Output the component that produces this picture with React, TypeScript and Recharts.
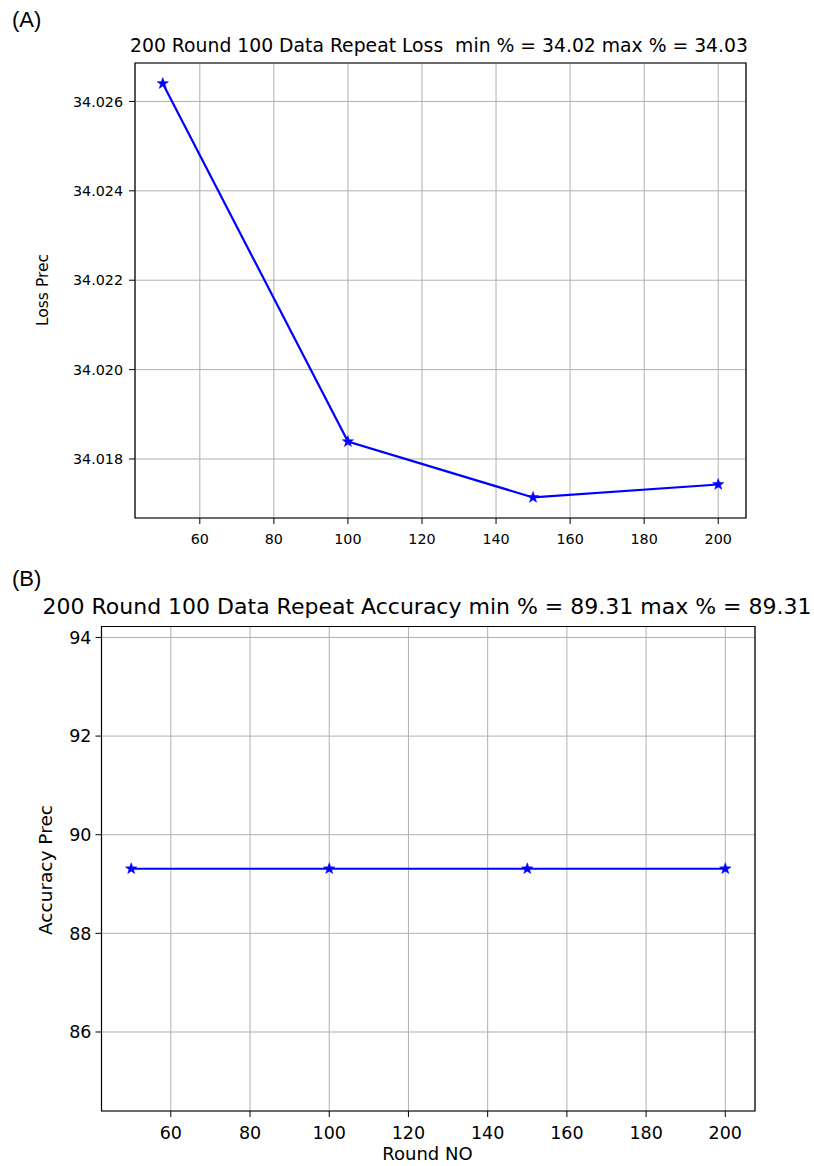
import React from 'react';
import { LineChart, Line, XAxis, YAxis, CartesianGrid, ReferenceArea } from 'recharts';

const rounds = [50, 100, 150, 200];
const lossValues = [34.0264, 34.01839, 34.01714, 34.01743];
const accuracyValues = [89.31, 89.31, 89.31, 89.31];
const xTicks = [60, 80, 100, 120, 140, 160, 180, 200];
const lossTicks = [34.018, 34.02, 34.022, 34.024, 34.026];
const accTicks = [86, 88, 90, 92, 94];

const lossData = rounds.map((r, i) => ({ round: r, loss: lossValues[i] }));
const accData = rounds.map((r, i) => ({ round: r, acc: accuracyValues[i] }));

const FONT = '"DejaVu Sans", sans-serif';
const BLUE = '#0000ff';

function starPoints(cx: number, cy: number, R: number) {
  const r = R * 0.4;
  const pts: string[] = [];
  for (let i = 0; i < 10; i++) {
    const rad = i % 2 === 0 ? R : r;
    const a = -Math.PI / 2 + (i * Math.PI) / 5;
    pts.push(`${cx + rad * Math.cos(a)},${cy + rad * Math.sin(a)}`);
  }
  return pts.join(' ');
}

const StarDot = (props: any) => {
  const { cx, cy, index } = props;
  if (cx == null || cy == null) return <g key={`s${index}`} />;
  return <polygon key={`s${index}`} points={starPoints(cx, cy, 6)} fill={BLUE} stroke={BLUE} strokeWidth={0.5} />;
};

const abs = (style: React.CSSProperties): React.CSSProperties => ({ position: 'absolute', fontFamily: FONT, color: '#000', whiteSpace: 'pre', lineHeight: 1, ...style });

export default function App() {
  const lossDomain: [number, number] = [34.01668, 34.02686];
  const accDomain: [number, number] = [84.398, 94.222];
  const xDomain: [number, number] = [42.5, 207.5];
  return (
    <div style={{ position: 'absolute', left: 0, top: 0, width: 814, height: 1166, background: '#fff', overflow: 'hidden' }}>
      <div style={abs({ left: 12, top: 9, fontSize: 22, fontFamily: '"Liberation Sans", Arial, sans-serif' })}>(A)</div>
      <div style={abs({ left: 12, top: 568, fontSize: 22, fontFamily: '"Liberation Sans", Arial, sans-serif' })}>(B)</div>

      <div style={{ position: 'absolute', left: 0, top: 0 }}>
        <LineChart width={814} height={580} data={lossData} margin={{ top: 63, right: 68, left: 55, bottom: 32 }}>
          <CartesianGrid stroke="#b0b0b0" strokeWidth={1} />
          <XAxis dataKey="round" type="number" domain={xDomain} ticks={xTicks} allowDataOverflow
            axisLine={false} tickSize={6} tickMargin={10} height={30}
            tickLine={{ stroke: '#000' }} tick={{ fill: '#000', fontSize: 14.3, fontFamily: FONT }} />
          <YAxis type="number" domain={lossDomain} ticks={lossTicks} allowDataOverflow width={80}
            axisLine={false} tickSize={6} tickMargin={6} tickFormatter={(v: number) => v.toFixed(3)}
            tickLine={{ stroke: '#000' }} tick={{ fill: '#000', fontSize: 14.3, fontFamily: FONT }} />
          <ReferenceArea x1={xDomain[0]} x2={xDomain[1]} y1={lossDomain[0]} y2={lossDomain[1]} fill="none" stroke="#000" strokeWidth={1.2} ifOverflow="visible" />
          <Line dataKey="loss" stroke={BLUE} strokeWidth={2.2} dot={StarDot} isAnimationActive={false} />
        </LineChart>
      </div>

      <div style={abs({ left: 439, top: 37, fontSize: 18.8, transform: 'translateX(-50%)' })}>200 Round 100 Data Repeat Loss  min % = 34.02 max % = 34.03</div>
      <div style={abs({ left: 44, top: 290, fontSize: 15.5, transform: 'translate(-50%,-50%) rotate(-90deg)' })}>Loss Prec</div>

      <div style={{ position: 'absolute', left: 0, top: 580 }}>
        <LineChart width={814} height={586} data={accData} margin={{ top: 46.5, right: 59, left: 41.5, bottom: 25 }}>
          <CartesianGrid stroke="#b0b0b0" strokeWidth={1} />
          <XAxis dataKey="round" type="number" domain={xDomain} ticks={xTicks} allowDataOverflow
            axisLine={false} tickSize={6} tickMargin={10} height={30}
            tickLine={{ stroke: '#000' }} tick={{ fill: '#000', fontSize: 17.5, fontFamily: FONT }} />
          <YAxis type="number" domain={accDomain} ticks={accTicks} allowDataOverflow width={60}
            axisLine={false} tickSize={6} tickMargin={4}
            tickLine={{ stroke: '#000' }} tick={{ fill: '#000', fontSize: 17.5, fontFamily: FONT }} />
          <ReferenceArea x1={xDomain[0]} x2={xDomain[1]} y1={accDomain[0]} y2={accDomain[1]} fill="none" stroke="#000" strokeWidth={1.2} ifOverflow="visible" />
          <Line dataKey="acc" stroke={BLUE} strokeWidth={2.2} dot={StarDot} isAnimationActive={false} />
        </LineChart>
      </div>

      <div style={abs({ left: 427, top: 595.5, fontSize: 22, transform: 'translateX(-50%)' })}>200 Round 100 Data Repeat Accuracy min % = 89.31 max % = 89.31</div>
      <div style={abs({ left: 46, top: 870, fontSize: 18.5, transform: 'translate(-50%,-50%) rotate(-90deg)' })}>Accuracy Prec</div>
      <div style={abs({ left: 427.5, top: 1145, fontSize: 18, transform: 'translateX(-50%)' })}>Round NO</div>
    </div>
  );
}
